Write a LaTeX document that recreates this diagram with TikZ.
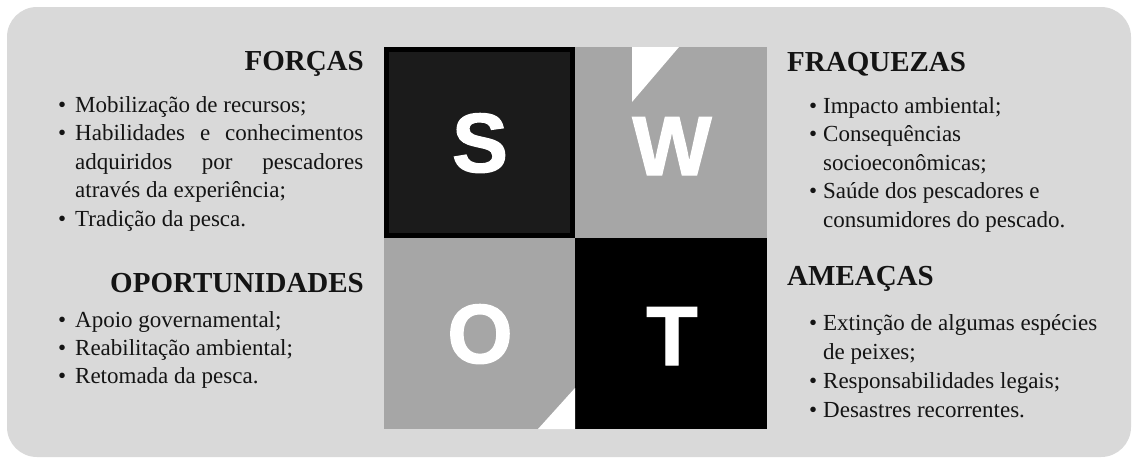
\documentclass[tikz,border=0pt]{standalone}
\usepackage{fontspec}
\setmainfont{Liberation Serif}
\newfontfamily\swotfont{Liberation Sans}[BoldFeatures={FakeBold=1.5}]
\definecolor{bgc}{HTML}{D9D9D9}
\definecolor{sfill}{HTML}{1B1B1B}
\definecolor{gfill}{HTML}{A6A6A6}
\definecolor{txt}{HTML}{141414}
\newcommand{\itmL}{\llap{\textbullet\hspace{9pt}}}
\newcommand{\itmR}{\llap{\textbullet\hspace{6pt}}}
\tikzset{
  bodytext/.style={font=\fontsize{23}{23}\selectfont, inner sep=0pt, anchor=base west, text=txt},
  headL/.style={font=\fontsize{29}{29}\selectfont\bfseries, inner sep=0pt, anchor=base east, text=txt},
  headR/.style={font=\fontsize{29}{29}\selectfont\bfseries, inner sep=0pt, anchor=base west, text=txt},
  bigletter/.style={font=\swotfont\bfseries\fontsize{84}{84}\selectfont, inner sep=0pt, anchor=base, text=white}
}
\begin{document}
\begin{tikzpicture}[x=1pt,y=-1pt]
\useasboundingbox (0,0) rectangle (1138,464);
\fill[white] (0,0) rectangle (1138,464);
\fill[bgc, rounded corners=30pt] (7,7) rectangle (1131,457);
% squares
\fill[black] (384,47) rectangle (575,238);
\fill[sfill] (389,52) rectangle (570,233);
\fill[gfill] (575,47) rectangle (767,238);
\fill[gfill] (384,238) rectangle (575,429);
\fill[black] (575,238) rectangle (767,429);
\fill[white] (632,47) -- (679,47) -- (632,102) -- cycle;
\fill[white] (575,388) -- (575,429) -- (538,429) -- cycle;
% letters
\node[bigletter] (S) at (480,172) {S};
\node[bigletter] (W) at (672,175) {W};
\node[bigletter] (O) at (480,363) {O};
\node[bigletter] (T) at (672,365) {T};
% FORCAS
\node[headL] (hF) at (364,70) {FORÇAS};
\node[bodytext] (f1) at (75,112) {\itmL Mobilização de recursos;};
\node[bodytext] (f2) at (75,140.5) {\itmL\makebox[288pt][s]{Habilidades e conhecimentos}};
\node[bodytext] (f3) at (75,169) {\makebox[288pt][s]{adquiridos por pescadores}};
\node[bodytext] (f4) at (75,197.5) {através da experiência;};
\node[bodytext] (f5) at (75,226) {\itmL Tradição da pesca.};
% OPORTUNIDADES
\node[headL] (hO) at (364,292) {OPORTUNIDADES};
\node[bodytext] (o1) at (75,327) {\itmL Apoio governamental;};
\node[bodytext] (o2) at (75,355) {\itmL Reabilitação ambiental;};
\node[bodytext] (o3) at (75,383) {\itmL Retomada da pesca.};
% FRAQUEZAS
\node[headR] (hW) at (787,71) {FRAQUEZAS};
\node[bodytext] (w1) at (823,113) {\itmR Impacto ambiental;};
\node[bodytext] (w2) at (823,141.5) {\itmR Consequências};
\node[bodytext] (w3) at (823,170) {socioeconômicas;};
\node[bodytext] (w4) at (823,198.5) {\itmR Saúde dos pescadores e};
\node[bodytext] (w5) at (823,227) {consumidores do pescado.};
% AMEACAS
\node[headR] (hT) at (787,285) {AMEAÇAS};
\node[bodytext] (t1) at (823,330) {\itmR Extinção de algumas espécies};
\node[bodytext] (t2) at (823,359) {de peixes;};
\node[bodytext] (t3) at (823,388) {\itmR Responsabilidades legais;};
\node[bodytext] (t4) at (823,417) {\itmR Desastres recorrentes.};
\end{tikzpicture}
\end{document}
